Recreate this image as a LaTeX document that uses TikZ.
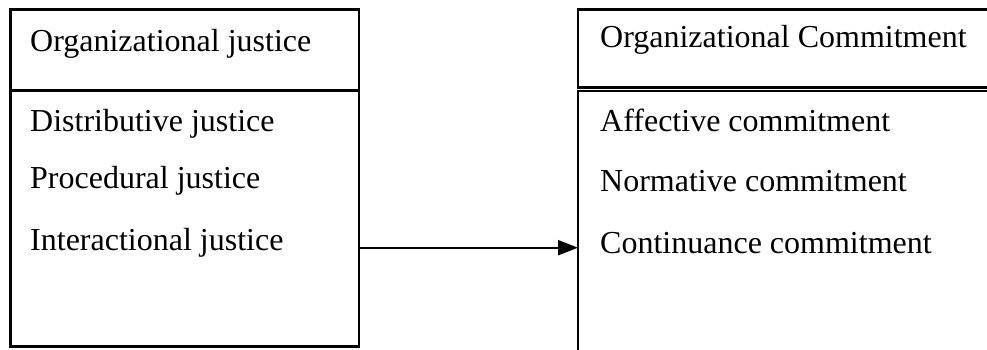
\documentclass[tikz,border=0pt]{standalone}
\usepackage{fontspec}
\setmainfont{Liberation Serif}
\usetikzlibrary{arrows.meta}
\usetikzlibrary{positioning}

\begin{document}
\begin{tikzpicture}[x=1pt,y=-1pt,line cap=butt,line join=miter,>={Triangle[length=20pt,width=15pt]},
  box/.style={draw=black,line width=2.2pt,inner sep=0pt,outer sep=0pt,anchor=north west},
  lbl/.style={anchor=base west,inner sep=0pt,font=\fontsize{32}{38}\selectfont}]
\useasboundingbox (0,0) rectangle (987,349);
% justice side
\node[box,minimum width=348.5pt,minimum height=81pt] (jhead) at (10.5,9.5) {};
\node[box,minimum width=348.5pt,minimum height=256pt] (jbody) at (10.5,90.5) {};
\node[lbl] (jtitle) at (30,51) {Organizational justice};
\node[lbl] (dj) at (30,131.5) {Distributive justice};
\node[lbl] (pj) at (30,188.5) {Procedural justice};
\node[lbl] (ij) at (30,250) {Interactional justice};
% commitment side
\node[box,minimum width=420pt,minimum height=78pt] (chead) at (578,9.5) {};
\node[box,minimum width=420pt,minimum height=280pt] (cbody) at (578,91) {};
\node[lbl] (ctitle) at (600,47.5) {Organizational Commitment};
\node[lbl] (ac) at (600,131.5) {Affective commitment};
\node[lbl] (nc) at (600,191.5) {Normative commitment};
\node[lbl] (cc) at (600,253) {Continuance commitment};
% link
\draw[->,line width=2.2pt] (jbody.east |- ij.mid) -- (cbody.west |- ij.mid);
\end{tikzpicture}
\end{document}
